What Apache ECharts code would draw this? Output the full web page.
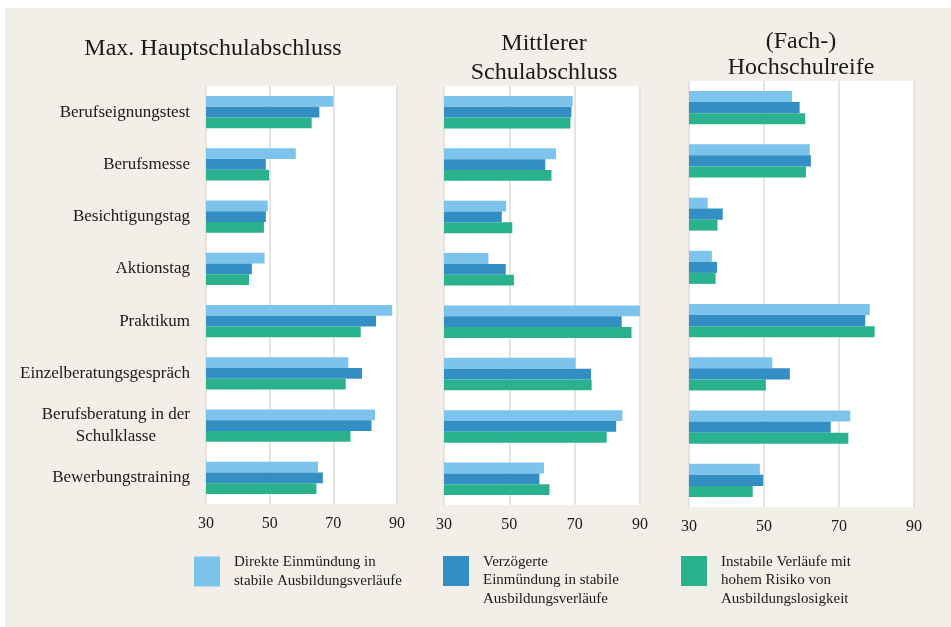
<!DOCTYPE html>
<html>
<head>
<meta charset="utf-8">
<script src="https://cdn.jsdelivr.net/npm/echarts@6/dist/echarts.min.js"></script>
<style>
  html, body { margin: 0; padding: 0; background: #fff; }
  #bg { position: absolute; left: 5px; top: 8px; right: 0; bottom: 0; background: #f2eee8; }
  #chart { position: absolute; left: 0; top: 0; width: 951px; height: 627px; }
</style>
</head>
<body>
<div id="bg"></div>
<div id="chart"></div>
<script>
// Kategorien und Werte
const categories = [
  "Berufseignungstest",
  "Berufsmesse",
  "Besichtigungstag",
  "Aktionstag",
  "Praktikum",
  "Einzelberatungsgespräch",
  "Berufsberatung in der Schulklasse",
  "Bewerbungstraining",
]
const seriesNames = [
  "Direkte Einmündung in stabile Ausbildungsverläufe",
  "Verzögerte Einmündung in stabile Ausbildungsverläufe",
  "Instabile Verläufe mit hohem Risiko von Ausbildungslosigkeit",
]
// leere erste Zeile bei dreizeiligen Texten, damit sie wie im Original tiefer sitzen
const legendLabels = [
  "Direkte Einmündung in\nstabile Ausbildungsverläufe",
  "\nVerzögerte\nEinmündung in stabile\nAusbildungsverläufe",
  "\nInstabile Verläufe mit\nhohem Risiko von\nAusbildungslosigkeit",
]
const panelTitles = ["Max. Hauptschulabschluss", "Mittlerer\nSchulabschluss", "(Fach-)\nHochschulreife"]
const xTicks = [30, 50, 70, 90]

// Max. Hauptschulabschluss
const hauptDirekt = [70, 58.2, 49.4, 48.4, 88.5, 74.7, 83.1, 65.2]
const hauptVerz = [65.6, 48.8, 48.8, 44.4, 83.4, 79, 82, 66.7]
const hauptInstabil = [63.2, 49.8, 48.2, 43.5, 78.6, 73.9, 75.4, 64.7]
// Mittlerer Schulabschluss
const mittelDirekt = [69.4, 64.3, 49, 43.6, 90, 70.3, 84.6, 60.6]
const mittelVerz = [69, 61, 47.7, 48.9, 84.4, 75, 82.7, 59.2]
const mittelInstabil = [68.7, 62.9, 50.9, 51.4, 87.4, 75.2, 79.8, 62.3]
// (Fach-)Hochschulreife
const hochDirekt = [57.5, 62.2, 35, 36.1, 78.2, 52.2, 73, 48.9]
const hochVerz = [59.5, 62.5, 39, 37.5, 77, 56.9, 67.8, 49.8]
const hochInstabil = [61, 61.2, 37.6, 37.1, 79.5, 50.5, 72.5, 47]

const panelData = [
  [hauptDirekt, hauptVerz, hauptInstabil],
  [mittelDirekt, mittelVerz, mittelInstabil],
  [hochDirekt, hochVerz, hochInstabil],
]

const colors = ["#7dc4ec", "#338ec4", "#2ab28e"]
const serif = "Liberation Serif"
const textColor = "#1a1a1a"

const grids = [
  { left: 206, top: 86, width: 191, height: 418 },
  { left: 444, top: 86, width: 196, height: 419 },
  { left: 689, top: 81, width: 225, height: 426 },
]
const titlePos = [
  { left: 213, top: 35, lineHeight: 28 },
  { left: 544, top: 29, lineHeight: 29 },
  { left: 801, top: 29, lineHeight: 26 },
]
// Icon soll bei 556..586 liegen
const legendPos = [
  { left: 194, top: 553 },
  { left: 443, top: 534 },
  { left: 681, top: 534 },
]

const chart = echarts.init(document.getElementById("chart"))

const option = {
  animation: false,
  color: colors,
  title: panelTitles.map((t, i) => ({
    text: t,
    left: titlePos[i].left,
    top: titlePos[i].top,
    textAlign: "center",
    padding: 0,
    textStyle: {
      fontFamily: serif,
      fontSize: 24,
      fontWeight: "normal",
      color: textColor,
      lineHeight: titlePos[i].lineHeight,
    },
  })),
  legend: seriesNames.map((n, i) => ({
    data: [n],
    left: legendPos[i].left,
    top: legendPos[i].top,
    padding: 0,
    itemWidth: 26,
    itemHeight: 30,
    icon: "rect",
    selectedMode: false,
    formatter: () => legendLabels[i],
    textStyle: {
      fontFamily: serif,
      fontSize: 15,
      color: textColor,
      lineHeight: 18.5,
      padding: [0, 0, 0, 9],
    },
  })),
  grid: grids.map((g) => ({
    ...g,
    show: true,
    backgroundColor: "#fff",
    borderWidth: 0,
  })),
  xAxis: grids.map((g, i) => ({
    type: "value",
    gridIndex: i,
    min: xTicks[0],
    max: xTicks[xTicks.length - 1],
    interval: 20,
    axisLine: { show: false },
    axisTick: { show: false },
    axisLabel: {
      margin: 12,
      fontFamily: serif,
      fontSize: 16,
      color: textColor,
    },
    splitLine: {
      show: true,
      lineStyle: { color: "#dcdcdc", width: 1.5 },
    },
  })),
  yAxis: grids.map((g, i) => ({
    type: "category",
    gridIndex: i,
    data: categories,
    inverse: true,
    axisLine: { show: false },
    axisTick: { show: false },
    splitLine: { show: false },
    axisLabel: {
      show: i === 0,
      margin: 16,
      fontFamily: serif,
      fontSize: 17,
      color: textColor,
      formatter: (v) =>
        v === "Berufsberatung in der Schulklasse"
          ? "{c|Berufsberatung in der}\n{c|Schulklasse}"
          : v,
      rich: {
        c: {
          align: "center",
          fontFamily: serif,
          fontSize: 17,
          color: textColor,
          lineHeight: 22,
        },
      },
    },
  })),
  series: [],
}

panelData.forEach((sets, p) => {
  sets.forEach((vals, s) => {
    option.series.push({
      name: seriesNames[s],
      type: "bar",
      xAxisIndex: p,
      yAxisIndex: p,
      data: vals,
      barGap: "0%",
      barCategoryGap: "38%",
      itemStyle: { color: colors[s] },
    })
  })
})

chart.setOption(option)
</script>
</body>
</html>
